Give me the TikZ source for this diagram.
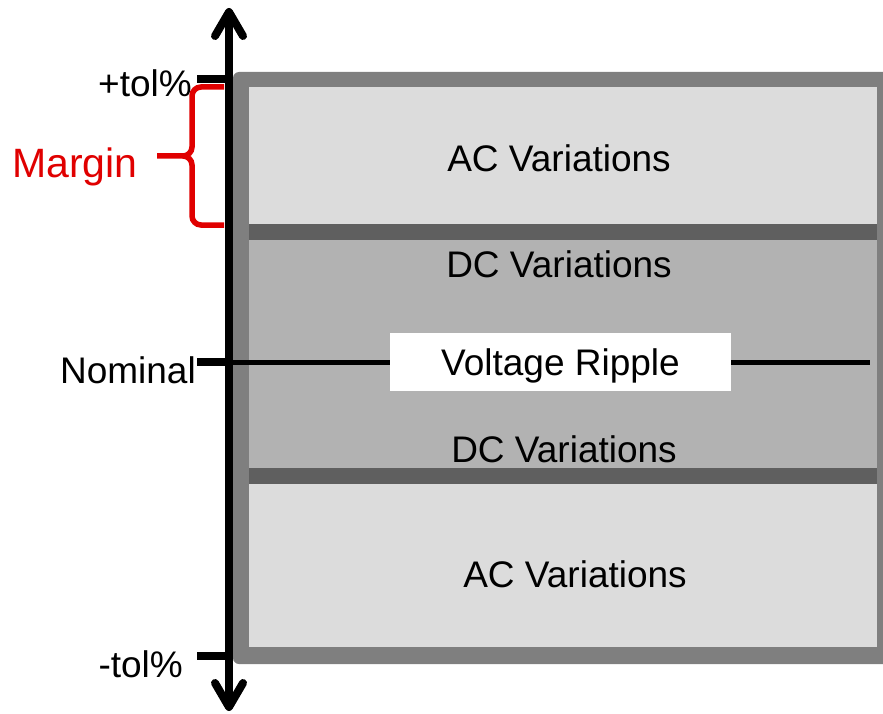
\documentclass[tikz,border=0pt]{standalone}
\usepackage{fontspec}
\setmainfont{Liberation Sans}
\usetikzlibrary{arrows.meta}
\definecolor{acgray}{RGB}{220,220,220}
\definecolor{dcgray}{RGB}{178,178,178}
\definecolor{bandgray}{RGB}{95,95,95}
\definecolor{framegray}{RGB}{127,127,127}
\definecolor{margred}{RGB}{224,0,0}

\begin{document}
\begin{tikzpicture}[
  x=1pt, y=-1pt,
  lab/.style={inner sep=0pt, font=\fontsize{37}{40}\selectfont},
  band/.style={fill=bandgray},
  axis/.style={line width=8pt, {Straight Barb[length=24pt,width=28pt,round]}-{Straight Barb[length=24pt,width=28pt,round]}},
  tolline/.style={line width=7.5pt},
  brace/.style={draw=margred, line width=5.5pt, rounded corners=9pt},
]
\clip (0,0) rectangle (883,714);
% outer frame and the three zones
\fill[framegray, rounded corners=6pt] (233,72) rectangle (893,664);
\fill[acgray] (249,87) rectangle (877,224);
\fill[band] (249,224) rectangle (877,240);
\fill[dcgray] (249,240) rectangle (877,468);
\fill[band] (249,468) rectangle (877,484);
\fill[acgray] (249,484) rectangle (877,647);
% nominal level
\coordinate (nomL) at (197,362);
\coordinate (nomA) at (229,362);
\coordinate (nomR) at (870,362);
\draw[line width=5pt] (nomA) -- (nomR);
\node[lab, fill=white, minimum width=341pt, minimum height=58pt, text height=26pt, text depth=0pt] (ripple) at (560.5,362) {Voltage Ripple};
% zone labels
\node[lab, anchor=base] (acup) at (559,172) {AC Variations};
\node[lab, anchor=base] (dcup) at (559,277) {DC Variations};
\node[lab, anchor=base] (dclow) at (564,462) {DC Variations};
\node[lab, anchor=base] (aclow) at (575,587) {AC Variations};
% vertical axis with its marks
\coordinate (axtop) at (229,8);
\coordinate (axbot) at (229,711);
\coordinate (upL) at (197,79);
\coordinate (upA) at (229,79);
\coordinate (lowL) at (197,656);
\coordinate (lowA) at (229,656);
\draw[axis] (axbot) -- (axtop);
\draw[tolline] (upL) -- (upA);
\draw[tolline] (nomL) -- (nomA);
\draw[tolline] (lowL) -- (lowA);
\node[lab, anchor=base east] (tolup) at (192,97) {+tol\%};
\node[lab, anchor=base east] (nom) at (196,383) {Nominal};
\node[lab, anchor=base east] (tollow) at (183,677) {-tol\%};
% margin brace
\draw[brace] (224,87) -- (192,87) -- (192,156) -- (157,156)
  (157,156) -- (192,156) -- (192,225) -- (224,225);
\node[lab, anchor=base west, text=margred, font=\fontsize{41}{44}\selectfont] (margin) at (12,178) {Margin};
\end{tikzpicture}
\end{document}
